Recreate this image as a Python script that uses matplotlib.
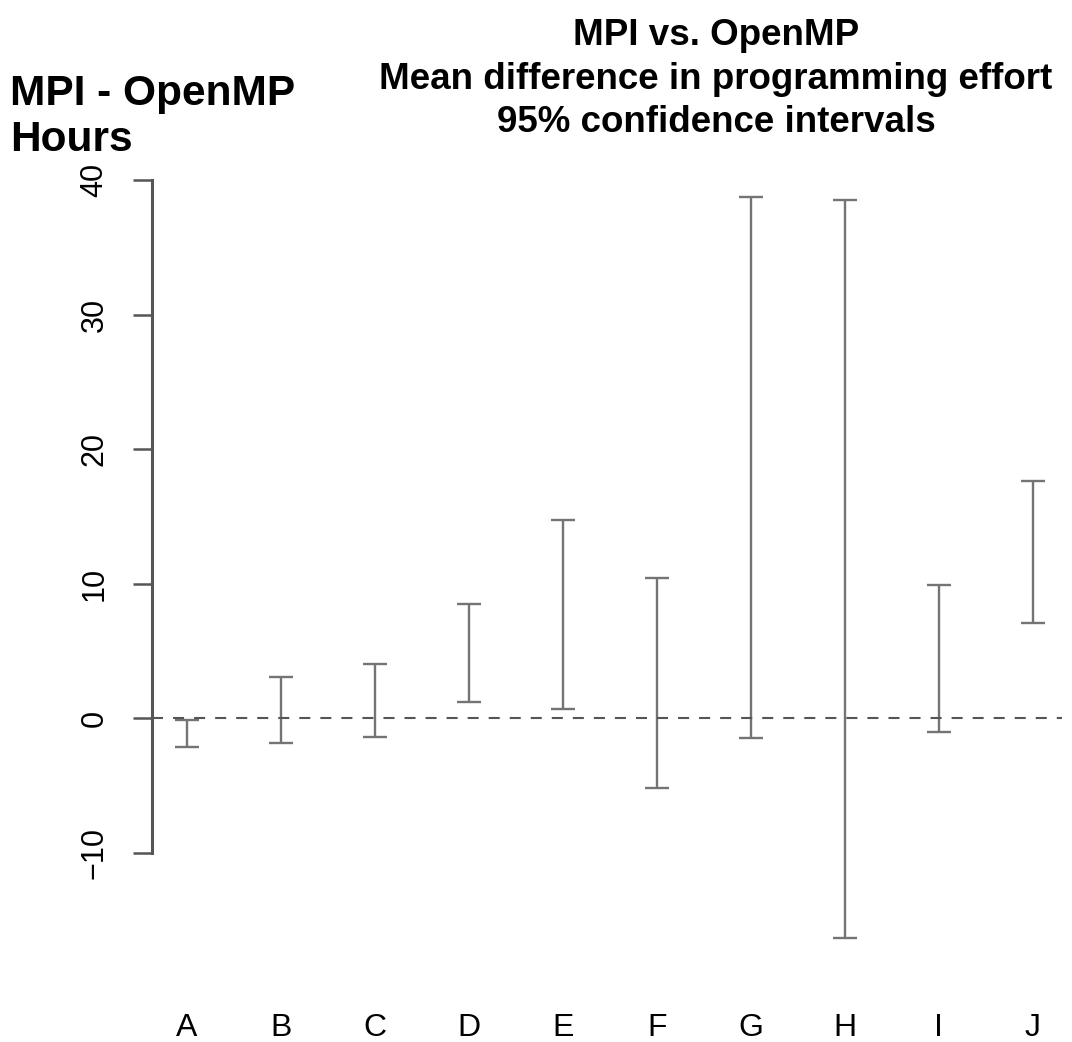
import numpy as np
import matplotlib
matplotlib.use('Agg')
import matplotlib.pyplot as plt

# 95% CI of mean difference (MPI - OpenMP), hours
groups = ['A', 'B', 'C', 'D', 'E', 'F', 'G', 'H', 'I', 'J']
lower = [-2.1, -1.8, -1.4, 1.2, 0.7, -5.2, -1.5, -16.3, -1.0, 7.1]
upper = [-0.1, 3.1, 4.0, 8.5, 14.7, 10.4, 38.7, 38.5, 9.9, 17.6]
yticks = [-10, 0, 10, 20, 30, 40]

title_lines = ['MPI vs. OpenMP',
               'Mean difference in programming effort',
               '95% confidence intervals']
ylab_lines = ['MPI - OpenMP', 'Hours']

W, H = 1072, 1042
fig = plt.figure(figsize=(W / 100, H / 100), dpi=100)
fig.patch.set_facecolor('white')
ax = fig.add_axes([152 / W, 1 - 974 / H, (1062 - 152) / W, (974 - 166.5) / H])
ax.set_facecolor('white')

x = np.arange(1, len(groups) + 1)
lo = np.array(lower)
hi = np.array(upper)
mid = (lo + hi) / 2
ax.errorbar(x, mid, yerr=[mid - lo, hi - mid], fmt='none', ecolor='#747474',
            elinewidth=1.7, capsize=8.6, capthick=1.7)
ax.axhline(0, color='#555555', lw=1.5, dashes=(5.3, 4.8))

ax.set_xlim(0.63, 10.31)
ax.set_ylim(-19, 41)
for s in ['top', 'right', 'bottom']:
    ax.spines[s].set_visible(False)
ax.spines['left'].set_bounds(-10, 40)
ax.spines['left'].set_color('#555555')
ax.spines['left'].set_linewidth(2.2)

ax.set_yticks(yticks)
ax.tick_params(axis='y', length=13.7, width=1.8, color='#555555', pad=17,
               labelsize=22, labelrotation=90)
for lbl in ax.get_yticklabels():
    lbl.set_va('center')
ax.set_xticks(x)
ax.set_xticklabels(groups)
ax.tick_params(axis='x', length=0, pad=28, labelsize=23)
for lbl in ax.get_xticklabels() + ax.get_yticklabels():
    lbl.set_family('Liberation Sans')

for txt, yb in zip(title_lines, [45, 89, 132]):
    fig.text(716 / W, 1 - yb / H, txt, ha='center', va='baseline',
             fontsize=26.5, weight='bold', family='Liberation Sans')

for txt, yb in zip(ylab_lines, [105, 151]):
    fig.text(10 / W, 1 - yb / H, txt, ha='left', va='baseline',
             fontsize=30.5, weight='bold', family='Liberation Sans')

fig.savefig('out.png', dpi=100)
